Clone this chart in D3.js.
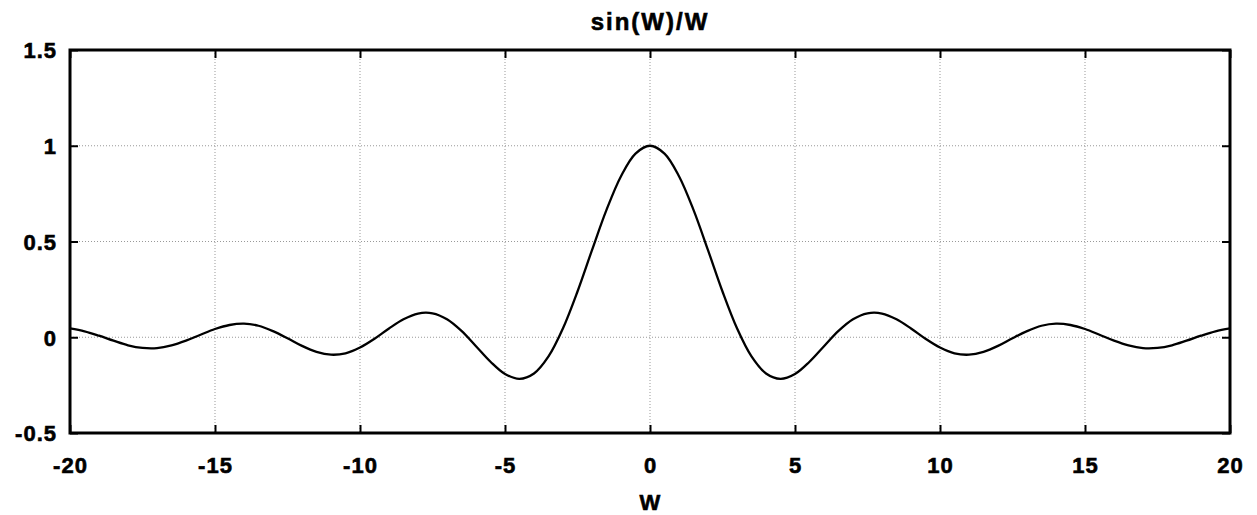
<!DOCTYPE html>
<html>
<head>
<meta charset="utf-8">
<script src="https://cdn.jsdelivr.net/npm/d3@7"></script>
<style>
  body { margin: 0; background: #fff; }
  text { font-family: "Liberation Sans", Arial, sans-serif; font-weight: bold; fill: #000; stroke: #000; stroke-width: 0.6px; }
</style>
</head>
<body>
<div id="chart"></div>
<script>
// Datos
const wValues = [
  -20, -19.5, -19, -18.5, -18, -17.5, -17, -16.5, -16, -15.5, -15, -14.5, -14, -13.5, -13, -12.5,
  -12, -11.5, -11, -10.5, -10, -9.5, -9, -8.5, -8, -7.5, -7, -6.5, -6, -5.5, -5, -4.5, -4, -3.5,
  -3, -2.5, -2, -1.5, -1, -0.5, 0, 0.5, 1, 1.5, 2, 2.5, 3, 3.5, 4, 4.5, 5, 5.5, 6, 6.5, 7, 7.5,
  8, 8.5, 9, 9.5, 10, 10.5, 11, 11.5, 12, 12.5, 13, 13.5, 14, 14.5, 15, 15.5, 16, 16.5, 17, 17.5,
  18, 18.5, 19, 19.5, 20
];
const sincValues = [
  0.046, 0.031, 0.008, -0.018, -0.042, -0.056, -0.057, -0.043, -0.018, 0.013, 0.043, 0.064, 0.071, 0.060, 0.032, -0.005,
  -0.045, -0.076, -0.091, -0.084, -0.054, -0.008, 0.046, 0.094, 0.124, 0.125, 0.094, 0.033, -0.047, -0.128, -0.192, -0.217, -0.189, -0.100,
  0.047, 0.239, 0.455, 0.665, 0.841, 0.959, 1.000, 0.959, 0.841, 0.665, 0.455, 0.239, 0.047, -0.100, -0.189, -0.217, -0.192, -0.128, -0.047, 0.033, 0.094, 0.125,
  0.124, 0.094, 0.046, -0.008, -0.054, -0.084, -0.091, -0.076, -0.045, -0.005, 0.032, 0.060, 0.071, 0.064, 0.043, 0.013, -0.018, -0.043, -0.057, -0.056,
  -0.042, -0.018, 0.008, 0.031, 0.046
];
const xTicks = [-20, -15, -10, -5, 0, 5, 10, 15, 20];
const yTicks = [-0.5, 0, 0.5, 1, 1.5];

const totalW = 1257, totalH = 515;
const margin = { top: 50, right: 27, bottom: 82, left: 70 };
const width = totalW - margin.left - margin.right;
const height = totalH - margin.top - margin.bottom;

const svg = d3.select("#chart").append("svg")
    .attr("width", totalW)
    .attr("height", totalH)
  .append("g")
    .attr("transform", `translate(${margin.left},${margin.top})`);

const x = d3.scaleLinear().domain([-20, 20]).range([0, width]);
const y = d3.scaleLinear().domain([-0.5, 1.5]).range([height, 0]);

// Rejilla punteada
svg.append("g").selectAll("line")
    .data(xTicks.slice(1, -1))
    .join("line")
    .attr("x1", d => x(d)).attr("x2", d => x(d))
    .attr("y1", 0).attr("y2", height)
    .attr("stroke", "#999").attr("stroke-width", 1).attr("stroke-dasharray", "1,2");

svg.append("g").selectAll("line")
    .data(yTicks.slice(1, -1))
    .join("line")
    .attr("x1", 0).attr("x2", width)
    .attr("y1", d => y(d)).attr("y2", d => y(d))
    .attr("stroke", "#999").attr("stroke-width", 1).attr("stroke-dasharray", "1,2");

// Ejes con marcas hacia dentro (guion simple como signo menos)
const fmt = d => String(d);
const xAxis = svg.append("g")
    .attr("transform", `translate(0,${height})`)
    .call(d3.axisBottom(x).tickValues(xTicks).tickFormat(fmt).tickSizeInner(-8).tickSizeOuter(0));
const yAxis = svg.append("g")
    .call(d3.axisLeft(y).tickValues(yTicks).tickFormat(fmt).tickSizeInner(-8).tickSizeOuter(0));
svg.append("g")
    .call(d3.axisTop(x).tickValues(xTicks).tickSizeInner(-8).tickSizeOuter(0).tickFormat(""));
svg.append("g")
    .attr("transform", `translate(${width},0)`)
    .call(d3.axisRight(y).tickValues(yTicks).tickSizeInner(-8).tickSizeOuter(0).tickFormat(""));

svg.selectAll(".domain").remove();
svg.selectAll(".tick line").attr("stroke", "#000").attr("stroke-width", 2);
xAxis.selectAll("text")
    .attr("y", 40).attr("dy", 0)
    .style("font-size", "22px").style("letter-spacing", "1px");
yAxis.selectAll("text")
    .attr("x", -13).attr("dy", "0.36em")
    .style("font-size", "22px").style("letter-spacing", "1px");

// Marco
svg.append("rect")
    .attr("width", width).attr("height", height)
    .attr("fill", "none").attr("stroke", "#000").attr("stroke-width", 3);

// Curva
svg.append("path")
    .datum(wValues.map((w, i) => ({ w, v: sincValues[i] })))
    .attr("fill", "none")
    .attr("stroke", "#000")
    .attr("stroke-width", 2.3)
    .attr("d", d3.line().curve(d3.curveCatmullRom).x(d => x(d.w)).y(d => y(d.v)));

// Título y etiqueta
svg.append("text")
    .attr("x", width / 2).attr("y", -20)
    .attr("text-anchor", "middle")
    .style("font-size", "24px")
    .style("letter-spacing", "2px")
    .text("sin(W)/W");

svg.append("text")
    .attr("x", width / 2).attr("y", height + 77)
    .attr("text-anchor", "middle")
    .style("font-size", "22px")
    .text("W");
</script>
</body>
</html>
